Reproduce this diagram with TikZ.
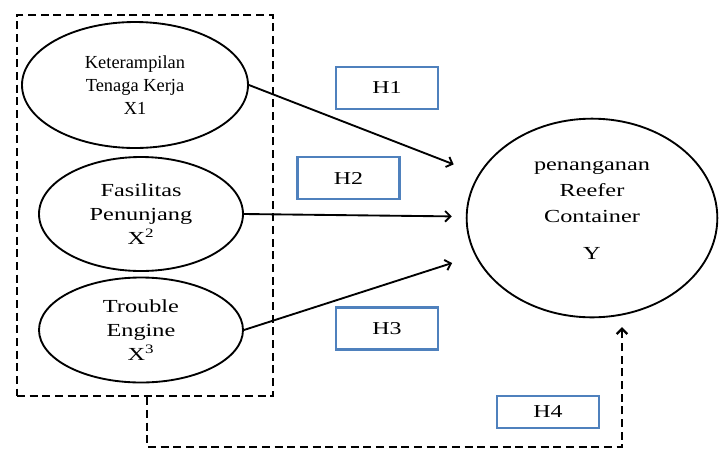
\documentclass[tikz,border=0pt]{standalone}
\usepackage{fontspec}
\setmainfont{Liberation Serif}
\newfontfamily\wide[FakeStretch=1.32]{Liberation Serif}
\usetikzlibrary{shapes.geometric,arrows.meta}
\definecolor{hblue}{RGB}{79,129,189}
\begin{document}
\begin{tikzpicture}[x=0.75pt, y=-0.75pt, >={Straight Barb[length=4pt,width=8pt]}, line width=1.4pt,
    var/.style={draw, ellipse, inner sep=0pt, align=center, font=\fontsize{13.8}{17.5}\selectfont},
    hbox/.style={draw=hblue, line width=1.6pt, minimum width=76.5pt, minimum height=31.5pt, font=\fontsize{13.6}{16}\wide},
    grp/.style={line width=1.8pt, dash pattern=on 6pt off 3.5pt}]
    \useasboundingbox (0,0) rectangle (719,451);

    % Group of independent variables
    \node[grp, draw, minimum width=192pt, minimum height=285.75pt] (group) at (145,205.5) {};

    % Independent variables
    \node[var, minimum width=169.5pt, minimum height=94.5pt] (x1) at (135,85)
        {Keterampilan\\Tenaga Kerja\\X1};
    \node[var, font=\fontsize{13.8}{18}\wide, minimum width=153pt, minimum height=85.5pt] (x2) at (141,214)
        {Fasilitas\\Penunjang\\X\textsuperscript{2}};
    \node[var, font=\fontsize{13.8}{18}\wide, minimum width=153pt, minimum height=78.75pt] (x3) at (141,330)
        {Trouble\\Engine\\X\textsuperscript{3}};

    % Dependent variable
    \node[var, font=\fontsize{13.8}{19.5}\wide, minimum width=188pt, minimum height=149pt] (y) at (592,218)
        {penanganan\\Reefer\\Container\\[8pt]Y\\[-8pt]\mbox{}};

    % Hypotheses
    \node[hbox] (h1) at (387,88) {H1};
    \node[hbox] (h2) at (348.5,178) {H2};
    \node[hbox] (h3) at (387,328.5) {H3};
    \node[hbox, minimum height=24pt] (h4) at (548,412) {H4};

    % Paths
    \draw[->, shorten >=20pt] (x1.east) -- (y);
    \draw[->, shorten >=10.5pt] (x2.east) -- (y);
    \draw[->, shorten >=18pt] (x3.east) -- (y);

    % Simultaneous path
    \coordinate (bend) at (622,447);
    \coordinate (h4end) at (622,327);
    \draw[grp, ->] ([xshift=1.5pt]group.south) |- (bend) -- (h4end);
\end{tikzpicture}
\end{document}
